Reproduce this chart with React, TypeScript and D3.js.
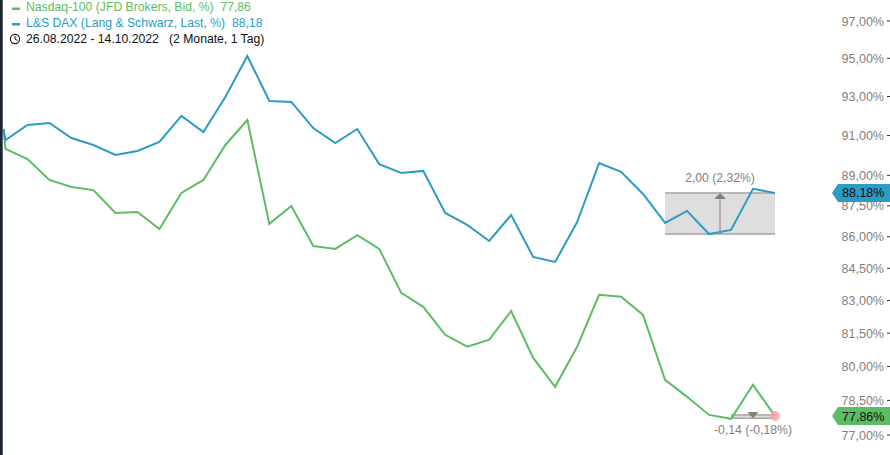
import React from "react";
import * as d3 from "d3";

const blueValues = [91.38, 90.82, 91.59, 91.69, 90.92, 90.57, 90.07, 90.27, 90.72, 92.05, 91.23, 93.03, 95.18, 92.82, 92.77, 91.43, 90.67, 91.38, 89.61, 89.17, 89.27, 87.2, 86.62, 85.85, 87.1, 85.09, 84.85, 86.76, 89.66, 89.22, 88.13, 86.72, 87.3, 86.18, 86.38, 88.38, 88.18];
const greenValues = [91.38, 90.37, 89.86, 88.82, 88.47, 88.32, 87.2, 87.25, 86.42, 88.18, 88.82, 90.57, 91.84, 86.67, 87.54, 85.61, 85.47, 86.13, 85.47, 83.4, 82.75, 81.47, 80.93, 81.25, 82.56, 80.43, 79.14, 80.93, 83.31, 83.22, 82.38, 79.45, 78.7, 77.91, 77.74, 79.23, 77.86];
const tickValues = [97, 95, 93, 91, 89, 87.5, 86, 84.5, 83, 81.5, 80, 78.5, 77];
const BLUE = "#2b9cc4";
const GREEN = "#5cbd64";
const GREY = "#857f7c";
const fmt = (v: number) => v.toFixed(2).replace(".", ",") + "%";

const y = d3.scaleLog().domain([97, 77]).range([21, 435]);
const xInner = d3.scaleLinear().domain([1, 36]).range([5.5, 775]);
const x = (i: number) => (i === 0 ? 3.5 : xInner(i));
const line = d3.line<number>().x((_, i) => x(i)).y((d) => y(d));
const font = "Arial, 'Liberation Sans', sans-serif";

function PriceTag({ value, color }: { value: number; color: string }) {
  const c = y(value) + 1;
  return (
    <g>
      <path d={`M832 ${c} L838 ${c - 9} H890 V${c + 9} H838 Z`} fill={color} />
      <text x={842} y={c + 4.5} fontSize={12.5} fill="#111">{fmt(value)}</text>
    </g>
  );
}

export default function App() {
  const n = blueValues.length - 1;
  const boxTop = y(88.18);
  const boxBottom = y(86.18);
  const gBoxTop = y(77.91);
  const gBoxBottom = y(77.77);
  return (
    <svg width={890} height={455} style={{ position: "fixed", left: 0, top: 0, background: "#fff" }} fontFamily={font}>
      <g transform="translate(0,1)">
        <rect x={x(31)} y={boxTop} width={x(36) - x(31)} height={boxBottom - boxTop} fill="#dedede" />
        <line x1={x(31)} x2={x(36)} y1={boxTop} y2={boxTop} stroke={GREY} strokeWidth={1} />
        <line x1={x(31)} x2={x(36)} y1={boxBottom} y2={boxBottom} stroke={GREY} strokeWidth={1} />
        <line x1={x(33.5)} x2={x(33.5)} y1={boxBottom} y2={boxTop + 4} stroke={GREY} strokeWidth={1} />
        <path d={`M${x(33.5) - 6} ${boxTop + 6} L${x(33.5)} ${boxTop} L${x(33.5) + 6} ${boxTop + 6} Z`} fill={GREY} />
        <text x={x(33.5)} y={boxTop - 11} textAnchor="middle" fontSize={12.2} fill={GREY}>2,00 (2,32%)</text>

        <rect x={x(34)} y={gBoxTop} width={x(36) - x(34)} height={gBoxBottom - gBoxTop} fill="#dedede" />
        <line x1={x(34)} x2={x(36)} y1={gBoxTop} y2={gBoxTop} stroke={GREY} strokeWidth={1} />
        <line x1={x(34)} x2={x(36)} y1={gBoxBottom} y2={gBoxBottom} stroke={GREY} strokeWidth={1} />
        <path d={`M${x(35) - 5.5} ${gBoxTop - 3} L${x(35)} ${gBoxBottom} L${x(35) + 5.5} ${gBoxTop - 3} Z`} fill={GREY} />
        <text x={x(35)} y={433} textAnchor="middle" fontSize={12.2} fill={GREY}>-0,14 (-0,18%)</text>

        <path d={line(greenValues) ?? ""} fill="none" stroke={GREEN} strokeWidth={2} />
        <path d={line(blueValues) ?? ""} fill="none" stroke={BLUE} strokeWidth={2} />
        <circle cx={x(n)} cy={y(greenValues[n])} r={5} fill="#f8a8a4" fillOpacity={0.85} />
      </g>
      <rect x={0} y={0} width={2.7} height={455} fill="#1b2430" />

      {tickValues.map((t) => (
        <g key={t}>
          <text x={884} y={y(t) + 4.5} textAnchor="end" fontSize={12.5} fill={GREY}>{fmt(t)}</text>
          <line x1={887} x2={890} y1={y(t)} y2={y(t)} stroke="#333" />
        </g>
      ))}
      <PriceTag value={blueValues[n]} color={BLUE} />
      <PriceTag value={greenValues[n]} color={GREEN} />

      <rect x={12} y={7.5} width={8} height={2.5} fill={GREEN} />
      <text x={26} y={11} fontSize={12.2} fill={GREEN} xmlSpace="preserve">Nasdaq-100 (JFD Brokers, Bid, %)  77,86</text>
      <rect x={12} y={23} width={8} height={2.5} fill={BLUE} />
      <text x={26} y={27} fontSize={12.2} fill={BLUE} xmlSpace="preserve">L&amp;S DAX (Lang &amp; Schwarz, Last, %)  88,18</text>
      <circle cx={15} cy={39} r={4.6} fill="none" stroke="#111" strokeWidth={1.1} />
      <path d="M15 36 V39 L17.5 40.5" fill="none" stroke="#111" strokeWidth={1} />
      <text x={26} y={43} fontSize={12.2} fill="#111" xmlSpace="preserve">26.08.2022 - 14.10.2022   (2 Monate, 1 Tag)</text>
    </svg>
  );
}
